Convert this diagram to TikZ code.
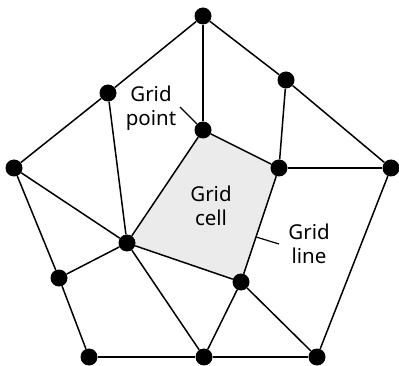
\documentclass[tikz,border=0pt]{standalone}
\usepackage{fontspec}
\newfontfamily\lblfont{Noto Sans}
\usetikzlibrary{backgrounds,calc}
\begin{document}
\begin{tikzpicture}[x=1pt,y=-1pt,
  dot/.style={circle,fill=black,inner sep=0pt,minimum size=17pt},
  edge/.style={line width=1.5pt,black},
  leader/.style={line width=1.2pt,black},
  lbl/.style={font=\fontsize{20.5}{24}\selectfont\lblfont,align=center,inner sep=0pt}]
\useasboundingbox (0,0) rectangle (399,366);
\node[dot] (T) at (203,16) {};
\node[dot] (UL) at (108,93) {};
\node[dot] (UR) at (286,80) {};
\node[dot] (L) at (14,168) {};
\node[dot] (R) at (391,168) {};
\node[dot] (GP) at (203,130) {};
\node[dot] (IR) at (279,168) {};
\node[dot] (C) at (127,243) {};
\node[dot] (IBR) at (241,282) {};
\node[dot] (LL) at (59,278) {};
\node[dot] (BL) at (89,357) {};
\node[dot] (BM) at (204,357) {};
\node[dot] (BR) at (317,357) {};
\begin{scope}[on background layer]
\fill[black!8] (GP.center) -- (IR.center) -- (IBR.center) -- (C.center) -- cycle;
\draw[edge] (T) -- (UL);
\draw[edge] (UL) -- (L);
\draw[edge] (T) -- (UR);
\draw[edge] (UR) -- (R);
\draw[edge] (T) -- (GP);
\draw[edge] (UL) -- (C);
\draw[edge] (UR) -- (IR);
\draw[edge] (IR) -- (R);
\draw[edge] (GP) -- (IR);
\draw[edge] (GP) -- (C);
\draw[edge] (L) -- (C);
\draw[edge] (L) -- (LL);
\draw[edge] (LL) -- (C);
\draw[edge] (LL) -- (BL);
\draw[edge] (BL) -- (BM);
\draw[edge] (C) -- (BM);
\draw[edge] (C) -- (IBR);
\draw[edge] (IR) -- (IBR);
\draw[edge] (IBR) -- (BM);
\draw[edge] (IBR) -- (BR);
\draw[edge] (BM) -- (BR);
\draw[edge] (R) -- (BR);
\end{scope}
\node[lbl] (lgp) at (151,108) {Grid\\point};
\node[lbl] (lgc) at (211,206) {Grid\\cell};
\node[lbl] (lgl) at (309,244) {Grid\\line};
\coordinate (gpa) at (180,107);
\draw[leader] (gpa) -- (GP);
\coordinate (gla) at ($(IR)!0.605!(IBR)$);
\coordinate (glb) at (279,244);
\draw[leader] (gla) -- (glb);
\end{tikzpicture}
\end{document}
